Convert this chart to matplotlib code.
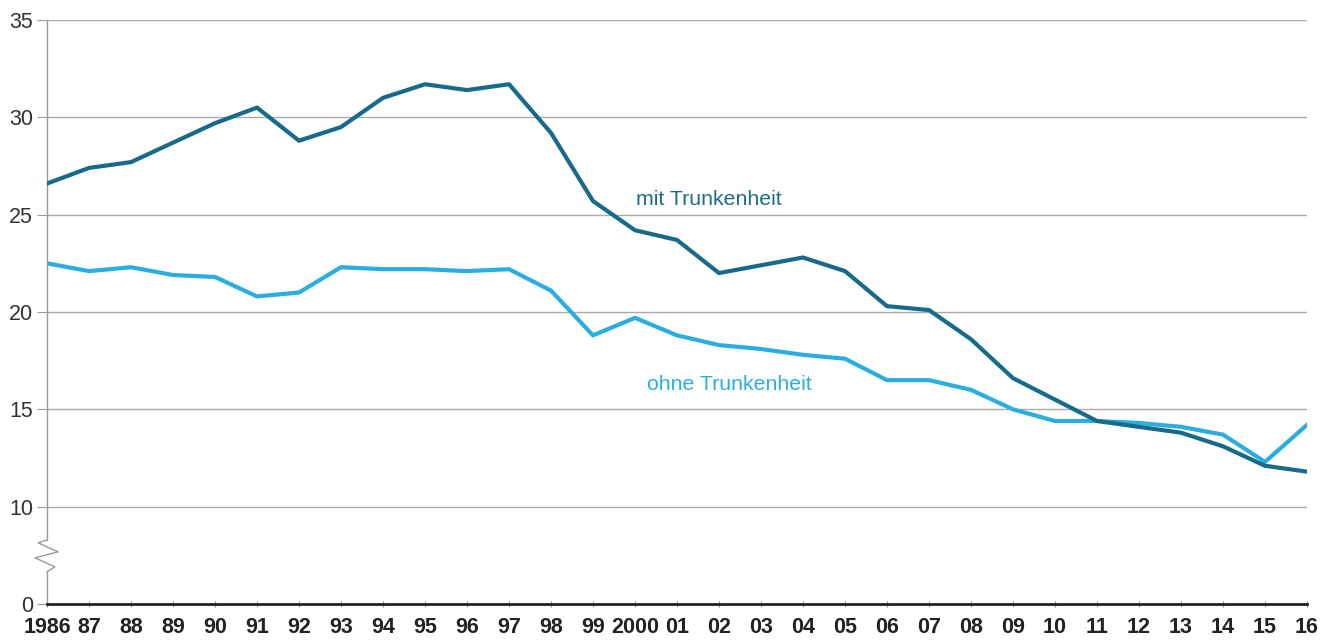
import matplotlib
matplotlib.use("Agg")
import matplotlib.pyplot as plt
from matplotlib.lines import Line2D

plt.rcParams['font.family'] = ['Liberation Sans', 'DejaVu Sans']

years = list(range(1986, 2017))
year_labels = ["1986", "87", "88", "89", "90", "91", "92", "93", "94", "95", "96", "97", "98", "99",
               "2000", "01", "02", "03", "04", "05", "06", "07", "08", "09", "10", "11", "12", "13",
               "14", "15", "16"]
mit = [26.6, 27.4, 27.7, 28.7, 29.7, 30.5, 28.8, 29.5, 31.0, 31.7, 31.4, 31.7, 29.2, 25.7,
       24.2, 23.7, 22.0, 22.4, 22.8, 22.1, 20.3, 20.1, 18.6, 16.6, 15.5, 14.4, 14.1, 13.8,
       13.1, 12.1, 11.8]
ohne = [22.5, 22.1, 22.3, 21.9, 21.8, 20.8, 21.0, 22.3, 22.2, 22.2, 22.1, 22.2, 21.1, 18.8,
        19.7, 18.8, 18.3, 18.1, 17.8, 17.6, 16.5, 16.5, 16.0, 15.0, 14.4, 14.4, 14.3, 14.1,
        13.7, 12.3, 14.2]
ytick_pos = [5, 10, 15, 20, 25, 30, 35]
ytick_labels = ["0", "10", "15", "20", "25", "30", "35"]

dark = "#176a8a"
light = "#2aaee2"

fig = plt.figure(figsize=(13.33, 6.43), dpi=100)
ax = fig.add_axes([47/1333, 1-604/643, (1307-47)/1333, (604-20)/643])

for y in ytick_pos[1:]:
    ax.axhline(y, color="#aaaaaa", lw=1, zorder=0)

ax.plot(years, mit, color=dark, lw=3, solid_joinstyle='round', zorder=3)
ax.plot(years, ohne, color=light, lw=3, solid_joinstyle='round', zorder=2)

ax.set_xlim(1986, 2016)
ax.set_ylim(5, 35)
ax.set_yticks(ytick_pos)
ax.set_yticklabels(ytick_labels, fontsize=15.5, color="#333333")
ax.set_xticks(years)
ax.set_xticklabels(year_labels, fontsize=15.5, fontweight='bold', color="#222222")
ax.tick_params(axis='x', length=5, direction='inout', color="#999999", pad=7)
ax.tick_params(axis='y', length=7, color="#999999", pad=3)

for s in ['top', 'right']:
    ax.spines[s].set_visible(False)
ax.spines['left'].set_visible(False)
ax.spines['bottom'].set_color("#222222")
ax.spines['bottom'].set_linewidth(2)

# left spine with break
trans = ax.get_yaxis_transform()
ax.add_line(Line2D([0, 0], [8.29, 35], transform=trans, color="#999999", lw=1, clip_on=False))
ax.add_line(Line2D([0, 0], [5, 6.65], transform=trans, color="#999999", lw=1, clip_on=False))
zx = [0, -0.007, 0.0087, -0.0095, 0.0063, 0]
zy = [8.29, 8.14, 7.68, 7.37, 6.91, 6.65]
ax.add_line(Line2D(zx, zy, transform=trans, color="#999999", lw=1, clip_on=False))

ax.text(2001.77, 25.8, "mit Trunkenheit", color="#1c6d85", fontsize=15.3, ha='center', va='center')
ax.text(2002.25, 16.3, "ohne Trunkenheit", color=light, fontsize=15.3, ha='center', va='center')

fig.savefig("out.png", dpi=100)
